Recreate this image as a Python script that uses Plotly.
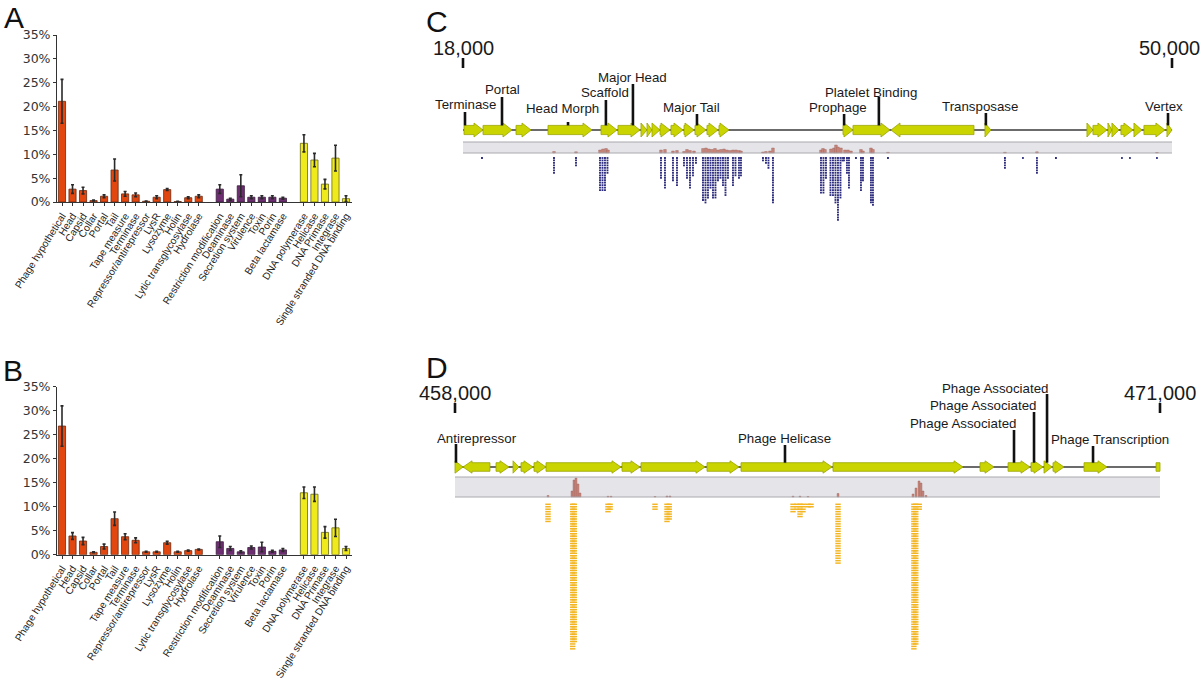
import plotly.graph_objects as go

W, H = 1200, 679

# ---------------- Panels A & B data ----------------
red_cats = ["Phage hypothetical", "Head", "Capsid", "Collar", "Portal", "Tail", "Tape measure",
            "Terminase", "Repressor/antirepressor", "LysR", "Lysozyme", "Holin",
            "Lytic transglycosylase", "Hydrolase"]
purple_cats = ["Restriction modification", "Deaminase", "Secretion system", "Virulence",
               "Toxin", "Porin", "Beta lactamase"]
yellow_cats = ["DNA polymerase", "Helicase", "DNA Primase", "Integrase",
               "Single stranded DNA binding"]

a_red = [21.1, 2.7, 2.4, 0.3, 1.2, 6.7, 1.7, 1.5, 0.15, 1.0, 2.6, 0.1, 0.9, 1.2]
a_red_err = [4.6, 0.9, 0.7, 0.1, 0.3, 2.3, 0.5, 0.4, 0.05, 0.3, 0.2, 0.05, 0.2, 0.3]
a_purple = [2.7, 0.6, 3.4, 1.0, 1.0, 1.0, 0.8]
a_purple_err = [0.9, 0.2, 2.3, 0.3, 0.3, 0.3, 0.2]
a_yellow = [12.3, 8.8, 3.75, 9.2, 0.7]
a_yellow_err = [1.8, 1.4, 1.0, 2.7, 0.6]

b_red = [26.8, 3.9, 2.85, 0.5, 1.7, 7.5, 3.75, 3.0, 0.6, 0.6, 2.5, 0.6, 0.85, 1.1]
b_red_err = [4.2, 0.7, 0.75, 0.1, 0.5, 1.4, 0.6, 0.5, 0.1, 0.1, 0.3, 0.1, 0.1, 0.1]
b_purple = [2.7, 1.3, 0.6, 1.5, 1.6, 0.7, 1.0]
b_purple_err = [1.2, 0.4, 0.2, 0.3, 1.0, 0.2, 0.3]
b_yellow = [12.9, 12.6, 4.65, 5.6, 1.3]
b_yellow_err = [1.2, 1.5, 1.2, 1.8, 0.4]

pct_ticks = [0, 5, 10, 15, 20, 25, 30, 35]

# ---------------- Panel C data (genome 18,000 - 50,000) ----------------
c_range = [18000, 50000]
c_gene_start = [18045, 18903, 20392, 21836, 24228, 24995, 26033, 26304, 26530, 26891, 27387,
                27974, 28470, 29012, 29553, 35150, 35601, 37316, 41558, 46161, 46432, 47109,
                47289, 47695, 48282, 48733, 49771]
c_gene_end = [18903, 20211, 21069, 23822, 24950, 25988, 26304, 26530, 26891, 27342, 27929,
              28425, 28967, 29508, 30005, 35601, 37271, 41062, 41829, 46432, 47064, 47289,
              47605, 48237, 48643, 49681, 50000]
c_gene_strand = [1, 1, 1, 1, 1, 1, 1, 1, 1, 1, 1, 1, 1, 1, 1, 1, 1, -1, 1, 1, 1, 1, 1, 1, 1, 1, 1]

c_label_text = ["Terminase", "Portal", "Head Morph", "Scaffold", "Major Head", "Major Tail",
                "Prophage", "Platelet Binding", "Transposase", "Vertex"]
c_label_pos = [18090, 19760, 22740, 24450, 25670, 28560, 35200, 36770, 41600, 49820]

c_read_pos = [18857, 22107, 23100, 24183, 24296, 24408, 24521, 26936, 27116, 27477, 27658,
              27974, 28109, 28245, 28380, 28515, 28831, 28944, 29057, 29170, 29283, 29395,
              29508, 29621, 29734, 29847, 29959, 30185, 30298, 30456, 30546, 31539, 31674,
              31787, 31990, 34157, 34269, 34382, 34585, 34698, 34811, 34924, 35037, 35127,
              35195, 35330, 35420, 35736, 35962, 36052, 36413, 36503, 37180, 42460, 43272,
              43904, 44762, 47740, 48101, 49320]
c_read_depth = [1, 7, 4, 14, 14, 14, 7, 9, 13, 10, 12,
                4, 9, 13, 8, 3, 18, 19, 17, 13, 17, 17,
                10, 9, 12, 16, 9, 12, 8, 9, 8, 2, 3,
                5, 19, 15, 15, 9, 16, 16, 19, 26, 17, 2,
                2, 7, 13, 1, 14, 10, 19, 20, 1, 5, 1,
                7, 1, 1, 1, 1]

c_cov_pos = [22107, 23100, 24183, 24318, 24454, 24544, 26936, 27116, 27477, 27658, 27974,
             28109, 28245, 28425, 28831, 28967, 29102, 29238, 29373, 29508, 29643, 29779,
             29914, 30050, 30185, 30320, 30456, 30546, 31539, 31674, 31855, 31990, 34157,
             34247, 34337, 34608, 34743, 34834, 34924, 35059, 35240, 35375, 35511, 35962,
             36052, 36413, 36503, 37180, 42460, 43904, 49320]
c_cov = [1.5, 1.2, 3, 4, 4.5, 3, 3, 3.5, 2, 2.5, 1.5,
         3.5, 2.5, 2, 4.5, 5, 4, 3.5, 4.5, 3, 3.5, 4,
         3, 2.5, 3, 3, 2.5, 2, 1, 1.5, 2, 5, 3,
         4.5, 3.5, 4, 5, 8, 6, 5, 3, 3, 2, 3.5,
         2, 5, 3.5, 0.7, 0.7, 1.2, 0.5]

# ---------------- Panel D data (genome 458,000 - 471,000) ----------------
d_range = [458000, 471000]
d_gene_start = [458000, 458148, 458756, 459070, 459217, 459457, 459678, 461080, 461430, 462647,
                463274, 464970, 467681, 468198, 468621, 468861, 469027, 469599, 470927]
d_gene_end = [458148, 458645, 458996, 459180, 459438, 459678, 461061, 461411, 462610, 463237,
              464952, 467368, 467940, 468603, 468843, 469009, 469230, 470023, 471000]
d_gene_strand = [1, -1, 1, 1, 1, 1, 1, 1, 1, 1, 1, 1, 1, 1, 1, 1, 1, 1, 0]

d_label_text = ["Antirepressor", "Phage Helicase", "Phage Associated", "Phage Associated",
                "Phage Associated", "Phage Transcription"]
d_label_pos = [458018, 464085, 468308, 468677, 468917, 469765]

d_read_pos = [459715, 460170, 460200, 460821, 460860, 461688, 461909, 461950,
              464233, 464306, 464362, 464417, 464509, 464565, 465063, 466462, 466497, 466560]
d_read_depth = [8, 60, 57, 4, 3, 3, 8, 7, 4, 3, 6, 4, 2, 2, 25, 60, 58, 3]

d_cov_pos = [459715, 460157, 460194, 460231, 460268, 460305, 460821, 460877, 461688, 461909,
             461964, 464233, 464362, 464509, 465063, 466446, 466501, 466556, 466593, 466630,
             466685]
d_cov = [1.5, 6, 17, 19, 13, 4, 0.7, 0.7, 0.5, 1, 1, 0.8, 0.8, 0.5, 3.5, 3, 9, 16, 14, 6, 1.5]

# ---------------- styles / layout constants ----------------
FONT = "Liberation Sans, Arial, sans-serif"
RED, PURPLE, YELLOW = "#E2470F", "#6E2E72", "#EFEA1C"
RED_E, PURPLE_E, YELLOW_E = "#6B2A12", "#3A1A3C", "#6A6814"
GENE_FILL, GENE_EDGE = "#C9D400", "#9AA500"
COV_FILL, COV_EDGE = "#C9877C", "#9A5D55"
BAND_FILL = "#E5E5E9"


def px_x(p):
    return p / W


def px_y(p):
    return 1 - p / H


fig = go.Figure()

# ---------- bar panels ----------
cats = red_cats + purple_cats + yellow_cats
xpos = (list(range(len(red_cats)))
        + [len(red_cats) + 1 + i for i in range(len(purple_cats))]
        + [len(red_cats) + len(purple_cats) + 2 + i for i in range(len(yellow_cats))])
fills = [RED] * len(red_cats) + [PURPLE] * len(purple_cats) + [YELLOW] * len(yellow_cats)
edges = [RED_E] * len(red_cats) + [PURPLE_E] * len(purple_cats) + [YELLOW_E] * len(yellow_cats)

for k, (vals, errs) in enumerate([(a_red + a_purple + a_yellow, a_red_err + a_purple_err + a_yellow_err),
                                  (b_red + b_purple + b_yellow, b_red_err + b_purple_err + b_yellow_err)]):
    sfx = "" if k == 0 else "2"
    fig.add_trace(go.Bar(
        x=xpos, y=vals, width=0.68,
        marker=dict(color=fills, line=dict(color=edges, width=0.8)),
        error_y=dict(type="data", array=errs, color="#2a2a2a", thickness=1.6, width=1.5),
        xaxis="x" + sfx, yaxis="y" + sfx, showlegend=False, hoverinfo="skip"))

x_lo = -0.475
x_hi = xpos[-1] + 0.57
bar_x_dom = [px_x(57), px_x(352)]
common_x = dict(range=[x_lo, x_hi], tickmode="array", tickvals=xpos, ticktext=cats,
                tickangle=-58, tickfont=dict(family=FONT, size=10.2, color="#222"),
                showline=True, linecolor="#333", linewidth=1, ticks="outside", ticklen=3,
                tickcolor="#333", showgrid=False, zeroline=False, domain=bar_x_dom,
                automargin=False)
common_y = dict(range=[0, 35], tickmode="array", tickvals=pct_ticks,
                ticktext=[f"{v}%" for v in pct_ticks],
                tickfont=dict(family="DejaVu Sans, sans-serif", size=12.5, color="#333"),
                showline=True, linecolor="#333", linewidth=1, ticks="outside", ticklen=3,
                tickcolor="#333", showgrid=False, zeroline=False, automargin=False)

# ---------- genome panels ----------
HEAD_PX = 9


def add_genome(sfx, grange, px0, px1, starts, ends, strands, line_y, head_half, body_half,
               band, read_pos, read_depth, read_top, read_step, read_len, read_color, read_w,
               cov_pos, cov, cov_w, lab_text, lab_pos, lab_top, lab_text_y, lab_shift,
               num_y, tick_y, num_shift):
    bp_per_px = (grange[1] - grange[0]) / (px1 - px0)
    head_bp = HEAD_PX * bp_per_px
    xa, ya = "x" + sfx, "y" + sfx
    # band
    fig.add_shape(type="rect", xref=xa, yref=ya, x0=grange[0], x1=grange[1], y0=band[0], y1=band[1],
                  fillcolor=BAND_FILL, line=dict(width=0), layer="below")
    fig.add_trace(go.Scatter(x=[grange[0], grange[1], None, grange[0], grange[1]],
                             y=[band[0], band[0], None, band[1], band[1]], mode="lines",
                             line=dict(color="#A9A9AE", width=1), xaxis=xa, yaxis=ya,
                             showlegend=False, hoverinfo="skip"))
    # coverage
    fig.add_trace(go.Bar(x=cov_pos, y=[-c for c in cov], base=band[1], width=cov_w,
                         marker=dict(color=COV_FILL, line=dict(color=COV_EDGE, width=0.4)),
                         xaxis=xa, yaxis=ya, showlegend=False, hoverinfo="skip"))
    # backbone
    fig.add_trace(go.Scatter(x=grange, y=[line_y, line_y], mode="lines",
                             line=dict(color="#3a3a3a", width=1.4), xaxis=xa, yaxis=ya,
                             showlegend=False, hoverinfo="skip"))
    # genes
    gx, gy = [], []
    for s, e, st in zip(starts, ends, strands):
        h = min(head_bp, e - s)
        if st > 0:
            xs = [s, e - h, e - h, e, e - h, e - h, s, s]
        elif st < 0:
            xs = [e, s + h, s + h, s, s + h, s + h, e, e]
        else:
            xs = [s, e, e, e, e, e, s, s]
        ys = [line_y - body_half, line_y - body_half, line_y - head_half, line_y,
              line_y + head_half, line_y + body_half, line_y + body_half, line_y - body_half]
        if st == 0:
            ys = [line_y - body_half, line_y - body_half, line_y, line_y, line_y,
                  line_y + body_half, line_y + body_half, line_y - body_half]
        gx += xs + [None]
        gy += ys + [None]
    fig.add_trace(go.Scatter(x=gx, y=gy, mode="lines", fill="toself", fillcolor=GENE_FILL,
                             line=dict(color=GENE_EDGE, width=0.8), xaxis=xa, yaxis=ya,
                             showlegend=False, hoverinfo="skip"))
    # reads
    rx, ry = [], []
    for c, d in zip(read_pos, read_depth):
        for k in range(d):
            yy = read_top + k * read_step
            rx += [c - read_len / 2, c + read_len / 2, None]
            ry += [yy, yy, None]
    fig.add_trace(go.Scatter(x=rx, y=ry, mode="lines", line=dict(color=read_color, width=read_w),
                             xaxis=xa, yaxis=ya, showlegend=False, hoverinfo="skip"))
    # label leaders
    lx, ly = [], []
    for p, t in zip(lab_pos, lab_top):
        lx += [p, p, None]
        ly += [t, line_y - body_half, None]
    # range end ticks
    for p in grange:
        lx += [p, p, None]
        ly += [tick_y[0], tick_y[1], None]
    fig.add_trace(go.Scatter(x=lx, y=ly, mode="lines", line=dict(color="#111", width=2.6),
                             xaxis=xa, yaxis=ya, showlegend=False, hoverinfo="skip"))
    for txt, p, ty, sh in zip(lab_text, lab_pos, lab_text_y, lab_shift):
        fig.add_annotation(x=p, y=ty, xref=xa, yref=ya, text=txt, showarrow=False,
                           xshift=sh, font=dict(family=FONT, size=13.3, color="#1a1a1a"),
                           xanchor="center", yanchor="middle")
    for p, sh in zip(grange, num_shift):
        fig.add_annotation(x=p, y=num_y, xref=xa, yref=ya, text=f"{p:,}", showarrow=False,
                           xshift=sh, font=dict(family=FONT, size=20, color="#1a1a1a"),
                           xanchor="center", yanchor="middle")
    return bp_per_px


# Panel C geometry
C_PX = (463, 1172)
C_Y = (40, 232)
c_bpp = add_genome("3", c_range, C_PX[0], C_PX[1], c_gene_start, c_gene_end, c_gene_strand,
                   line_y=130, head_half=7, body_half=4.6, band=(142, 153),
                   read_pos=c_read_pos, read_depth=c_read_depth, read_top=158, read_step=2.47,
                   read_len=85, read_color="#2C2B7E", read_w=1.8,
                   cov_pos=c_cov_pos, cov=c_cov, cov_w=120,
                   lab_text=c_label_text, lab_pos=c_label_pos,
                   lab_top=[112, 97, 122, 100, 84, 114, 114, 97, 113, 113],
                   lab_text_y=[104, 89, 108, 92, 77, 107, 107, 92, 106, 106],
                   lab_shift=[1, 0, -6, -1, 0, -5, -6, -8, -6, -4],
                   num_y=48, tick_y=(58, 68), num_shift=(0, -3))

D_PX = (455, 1160)
D_Y = (380, 662)
d_bpp = add_genome("4", d_range, D_PX[0], D_PX[1], d_gene_start, d_gene_end, d_gene_strand,
                   line_y=467, head_half=6.2, body_half=4.3, band=(477, 497),
                   read_pos=d_read_pos, read_depth=d_read_depth, read_top=504.3, read_step=2.45,
                   read_len=100, read_color="#F3B622", read_w=1.5,
                   cov_pos=d_cov_pos, cov=d_cov, cov_w=36,
                   lab_text=d_label_text, lab_pos=d_label_pos,
                   lab_top=[444, 445, 430, 412, 394, 446],
                   lab_text_y=[438, 438, 423, 405, 388, 439],
                   lab_shift=[21, 0, -51, -51, -52, 17],
                   num_y=393, tick_y=(403, 413), num_shift=(0, 0))

PAD_L, PAD_R = 30, 20
hidden = dict(visible=False, showgrid=False, zeroline=False, automargin=False)

fig.update_layout(
    width=W, height=H, margin=dict(l=0, r=0, t=0, b=0, autoexpand=False),
    paper_bgcolor="white", plot_bgcolor="rgba(0,0,0,0)", barmode="overlay",
    showlegend=False,
    xaxis=dict(**common_x, anchor="y"),
    yaxis=dict(**common_y, domain=[px_y(202), px_y(35)], anchor="x"),
    xaxis2=dict(**common_x, anchor="y2"),
    yaxis2=dict(**common_y, domain=[px_y(554.7), px_y(386.7)], anchor="x2"),
    xaxis3=dict(**hidden, domain=[px_x(C_PX[0] - PAD_L), px_x(C_PX[1] + PAD_R)],
                range=[c_range[0] - PAD_L * c_bpp, c_range[1] + PAD_R * c_bpp], anchor="y3"),
    yaxis3=dict(**hidden, domain=[px_y(C_Y[1]), px_y(C_Y[0])], range=[C_Y[1], C_Y[0]], anchor="x3"),
    xaxis4=dict(**hidden, domain=[px_x(D_PX[0] - PAD_L), px_x(D_PX[1] + PAD_R)],
                range=[d_range[0] - PAD_L * d_bpp, d_range[1] + PAD_R * d_bpp], anchor="y4"),
    yaxis4=dict(**hidden, domain=[px_y(D_Y[1]), px_y(D_Y[0])], range=[D_Y[1], D_Y[0]], anchor="x4"),
)

for letter, (lx, ly) in zip(["A", "B", "C", "D"], [(14, 17), (13, 371), (437, 21), (437, 367)]):
    fig.add_annotation(x=px_x(lx), y=px_y(ly), xref="paper", yref="paper", text=letter,
                       showarrow=False, font=dict(family=FONT, size=30, color="#111"),
                       xanchor="center", yanchor="middle")

fig.write_html("out.html", config={"displayModeBar": False},
               post_script="document.body.style.margin='0';")
